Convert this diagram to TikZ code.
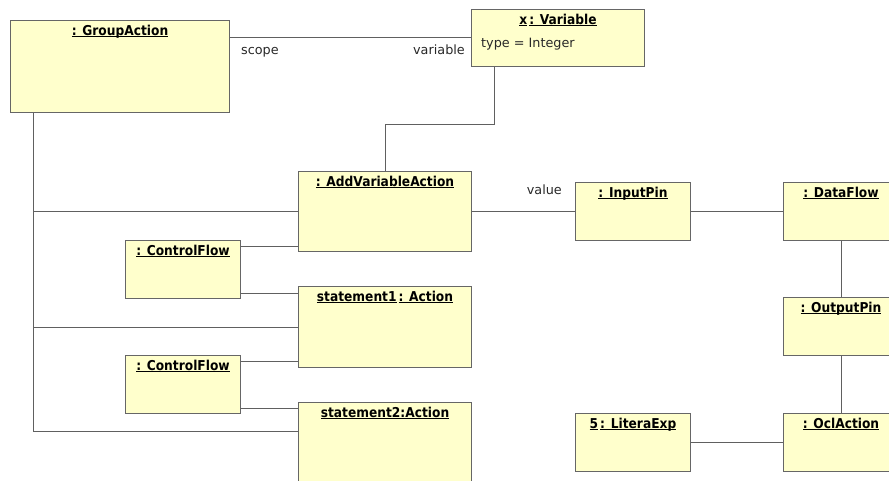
\documentclass[tikz,border=0pt]{standalone}
\usepackage{fontspec}
\setmainfont{DejaVu Sans}
\newfontfamily\titlefont{DejaVu Sans}[FakeStretch=0.9]
\definecolor{objfill}{RGB}{255,255,204}
\definecolor{objline}{RGB}{102,102,102}
\definecolor{linkline}{RGB}{96,96,96}
\definecolor{labeltext}{RGB}{40,40,40}
% underline with a fixed offset, independent of descenders
\newsavebox\ulbox
\newcommand\uline[1]{\sbox\ulbox{#1}\rlap{\rule[-2.2pt]{\wd\ulbox}{0.9pt}}\usebox\ulbox}
\newcommand\ulgap{\kern2pt}
\tikzset{
  objbox/.style={draw=objline, fill=objfill, line width=1pt, inner sep=0pt, anchor=north west},
  objtitle/.style={anchor=base, inner sep=0pt, font=\titlefont\bfseries\fontsize{13.6}{16}\selectfont},
  rolelabel/.style={inner sep=0pt, text=labeltext, font=\fontsize{12.8}{15}\selectfont},
  link/.style={draw=linkline, line width=1pt},
}
% object box: name, top-left corner, width, height, title
\newcommand\umlobj[5]{%
  \node[objbox, minimum width=#3, minimum height=#4] (#1) at (#2) {};
  \node[objtitle] (#1-t) at ([yshift=-15pt]#1.north) {#5};}
\begin{document}
\begin{tikzpicture}[x=1pt, y=-1pt]
\useasboundingbox (0,0) rectangle (889,480);
\clip (0,0) rectangle (889,480);

% objects
\umlobj{ga}{10,20}{219}{92}{\uline{: GroupAction}}
\umlobj{vr}{471,9}{173}{57}{\uline{x}\ulgap\uline{: Variable}}
\node[rolelabel, anchor=base west] (vr-a) at ([xshift=10pt,yshift=-38pt]vr.north west) {type = Integer};
\umlobj{ava}{298,171}{173}{80}{\uline{: AddVariableAction}}
\umlobj{cfa}{125,240}{115}{58}{\uline{: ControlFlow}}
\umlobj{sa}{298,286}{173}{81}{\uline{statement1}\ulgap\uline{: Action}}
\umlobj{cfb}{125,355}{115}{58}{\uline{: ControlFlow}}
\umlobj{sb}{298,402}{173}{80}{\uline{statement2:Action}}
\umlobj{ip}{575,182}{115}{58}{\uline{: InputPin}}
\umlobj{df}{783,182}{115}{58}{\uline{: DataFlow}}
\umlobj{op}{783,297}{115}{58}{\uline{: OutputPin}}
\umlobj{ocl}{783,413}{115}{58}{\uline{: OclAction}}
\umlobj{lit}{575,413}{115}{58}{\uline{5}\ulgap\uline{: LiteraExp}}

% scope / variable association
\coordinate (sv) at (300,37);
\draw[link] (ga.east |- sv) -- (vr.west |- sv);
\node[rolelabel, anchor=base west] (l-scope) at (241,54) {scope};
\node[rolelabel, anchor=base east] (l-var) at (465,54) {variable};

% variable to AddVariableAction
\coordinate (vx) at (494,124);
\coordinate (vb) at (385,124);
\draw[link] (vr.south -| vx) -- (vx) -- (vb) -- (ava.north -| vb);

% group action bus
\coordinate (bus) at (33,431);
\draw[link] (ga.south -| bus) -- (bus) -- (bus -| sb.west);
\draw[link] (ava.west -| bus) -- (ava.west);
\draw[link] (sa.west -| bus) -- (sa.west);

% control flows
\coordinate (cfa-in) at ([yshift=-6pt]cfa.north east);
\coordinate (cfa-out) at ([yshift=6pt]cfa.south east);
\draw[link] (cfa-in) -- (cfa-in -| ava.west);
\draw[link] (cfa-out) -- (cfa-out -| sa.west);
\coordinate (cfb-in) at ([yshift=-6pt]cfb.north east);
\coordinate (cfb-out) at ([yshift=6pt]cfb.south east);
\draw[link] (cfb-in) -- (cfb-in -| sa.west);
\draw[link] (cfb-out) -- (cfb-out -| sb.west);

% data side
\draw[link] (ava.east) -- (ip.west);
\node[rolelabel, anchor=base east] (l-value) at (562,194) {value};
\draw[link] (ip.east) -- (df.west);
\draw[link] (df.south) -- (op.north);
\draw[link] (op.south) -- (ocl.north);
\draw[link] (lit.east) -- (ocl.west);
\end{tikzpicture}
\end{document}
